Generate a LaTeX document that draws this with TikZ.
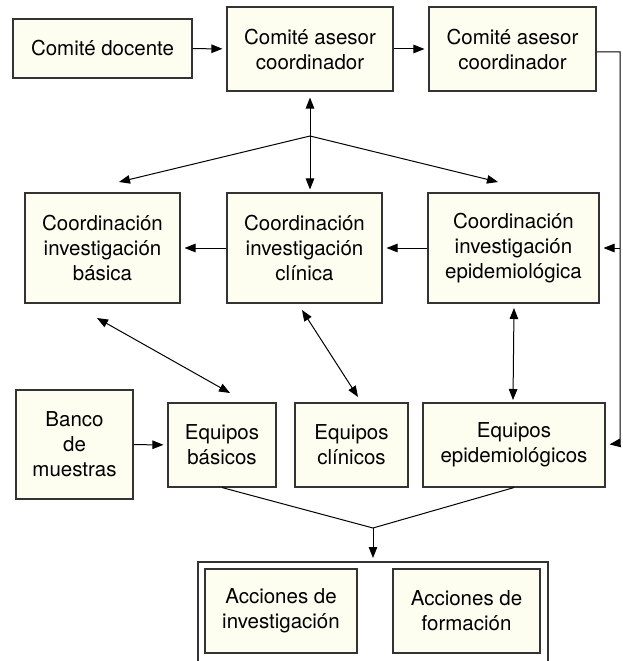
\documentclass[tikz,border=0pt]{standalone}
\usepackage{fontspec}
\setmainfont{TeX Gyre Heros}
\usetikzlibrary{arrows.meta}
\definecolor{crema}{HTML}{FEFEF0}

\begin{document}
\begin{tikzpicture}[x=1pt,y=-1pt,font=\fontsize{20.5}{25}\selectfont,
  caja/.style={draw=black!80,line width=1.1pt,fill=crema,align=center,inner sep=0pt},
  flecha/.style={-{Triangle[length=11pt,width=8.5pt]},line width=1pt,shorten >=4pt},
  doble/.style={{Triangle[length=11pt,width=8.5pt]}-{Triangle[length=11pt,width=8.5pt]},line width=1pt}]

\useasboundingbox (0,0) rectangle (622,661);

% comites
\node[caja,minimum width=179,minimum height=59] (docente) at (102.5,48.5) {Comité docente};
\node[caja,minimum width=166,minimum height=84] (asesorA) at (310,49) {Comité asesor\\coordinador};
\node[caja,minimum width=167,minimum height=84] (asesorB) at (512.5,49) {Comité asesor\\coordinador};

% coordinaciones
\node[caja,minimum width=155,minimum height=110] (basica) at (102.5,248) {Coordinación\\investigación\\básica};
\node[caja,minimum width=155,minimum height=110] (clinica) at (304.5,248) {Coordinación\\investigación\\clínica};
\node[caja,minimum width=171,minimum height=110] (epidem) at (513.5,248) {Coordinación\\investigación\\epidemiológica};

% equipos
\node[caja,minimum width=117,minimum height=109] (banco) at (74.5,444.5) {Banco\\de\\muestras};
\node[caja,minimum width=108,minimum height=84] (eqbas) at (222,445) {Equipos\\básicos};
\node[caja,minimum width=113,minimum height=84] (eqclin) at (351.5,445) {Equipos\\clínicos};
\node[caja,minimum width=182,minimum height=84] (eqepi) at (514,445) {Equipos\\epidemiológicos};

% acciones
\coordinate (marco) at (373,562);
\draw[line width=1.1pt,black!80] (198,661) -- (198,562) -- (548,562) -- (548,661);
\node[caja,minimum width=152,minimum height=84] (accinv) at (281,611) {Acciones de\\investigación};
\node[caja,minimum width=147,minimum height=84] (accform) at (466.5,611) {Acciones de\\formación};

\draw[flecha] (docente) -- (asesorA);
\draw[flecha] (asesorA) -- (asesorB);

\coordinate (bajada) at (620,443);
\draw[flecha] ([yshift=-3pt]asesorB.east) -| (bajada) -- (eqepi.east);
\draw[flecha] (bajada |- epidem.east) -- (epidem.east);

\coordinate (nudo) at (310,136);
\coordinate (haciaBas) at (119,182);
\coordinate (haciaEpi) at (498,182);
\draw[flecha,shorten >=6pt] (nudo) -- (asesorA.south);
\draw[flecha,shorten >=3pt] (nudo) -- (nudo |- clinica.north);
\foreach \h in {haciaBas,haciaEpi}
\draw[flecha,shorten >=0pt] (nudo) -- (\h);

\draw[flecha] (clinica) -- (basica);
\draw[flecha] (epidem) -- (clinica);

\foreach \n/\xa/\ya/\xb/\yb in {bas/97/318/230/393,cli/302/310/358/397,epi/514/308/513/400}{
\coordinate (s\n) at (\xa,\ya);
\coordinate (e\n) at (\xb,\yb);
\draw[doble] (s\n) -- (e\n);
}

\draw[flecha] (banco) -- (eqbas);

\coordinate (union) at (373,528);
\draw[line width=1pt] (eqbas.south) -- (union) -- (eqepi.south);
\draw[flecha] (union) -- (marco);
\end{tikzpicture}
\end{document}
